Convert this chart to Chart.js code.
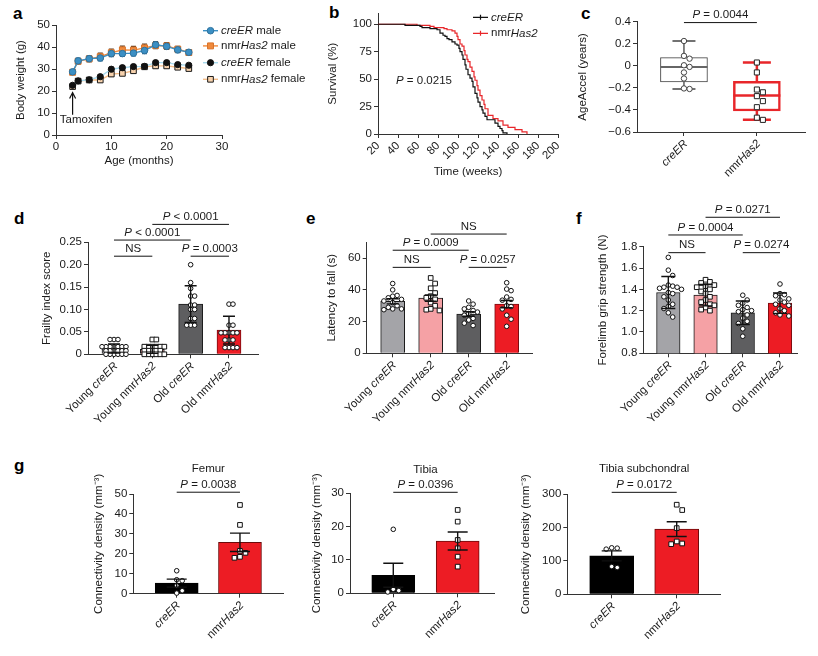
<!DOCTYPE html>
<html><head><meta charset="utf-8">
<script src="https://cdn.jsdelivr.net/npm/chart.js@4.4.1/dist/chart.umd.min.js"></script>
<style>
html,body{margin:0;padding:0;background:#fff;}
#fig{position:relative;width:818px;height:656px;overflow:hidden;background:#fff;}
.pl{position:absolute;font:bold 17px/17px 'Liberation Sans',Arial,sans-serif;color:#000;}
</style></head><body><div id="fig">
<div class="pl" style="left:13px;top:5px">a</div>
<div class="pl" style="left:329px;top:4px">b</div>
<div class="pl" style="left:581px;top:5px">c</div>
<div class="pl" style="left:14px;top:210px">d</div>
<div class="pl" style="left:306px;top:210px">e</div>
<div class="pl" style="left:576px;top:210px">f</div>
<div class="pl" style="left:14px;top:457px">g</div>
</div>
<script>
// ---------------- DATA ----------------
// a: body weight
const ageMonths = [3,4,6,8,10,12,14,16,18,20,22,24];
const creMaleBW = [28.7,33.7,34.7,35.0,37.0,37.0,37.2,38.4,41.0,40.3,38.7,37.6];
const creMaleSEM = [1.0,1.2,1.4,1.3,1.4,1.3,1.3,1.4,1.5,1.4,1.3,1.2];
const nmrMaleBW = [28.5,33.5,34.6,35.6,37.4,38.7,38.6,39.6,40.7,40.5,39.0,37.5];
const nmrMaleSEM = [1.0,1.2,1.3,1.6,1.6,1.7,1.7,1.7,1.5,1.5,1.3,1.2];
const creFemBW = [22.6,24.6,25.1,26.5,29.9,30.6,31.1,31.2,32.9,32.9,32.0,31.7];
const creFemSEM = [0.8,0.8,0.8,0.8,0.9,0.9,0.9,0.8,0.8,0.8,0.8,0.8];
const nmrFemBW = [22.0,24.5,25.0,25.0,27.7,28.0,29.2,31.0,31.4,31.4,30.8,30.2];
const nmrFemSEM = [0.8,0.8,0.8,0.8,0.9,0.9,0.9,0.8,0.8,0.8,0.8,0.8];
const ageTicks = [0,10,20,30];
const bwTicks = [0,10,20,30,40,50];

// b: survival
const creERWeeks = [20,47,62,64,72,79,82,85,87,89,91,94,97,99,101,102,104,105,107,108,110,112,114,115,117,119,120,122,124,125,127,129,135,137,140,142,144,145,149];
const creERSurv  = [100,99,98,97,96,95,92,90,89,87,86,84,82,81,78,75,72,68,63,59,54,51,48,43,37,33,29,25,22,19,16,13,13,10,7,5,3,1,0];
const nmrWeeks = [20,59,72,76,86,89,94,97,99,100,102,104,106,107,109,110,112,114,116,117,119,120,122,124,126,127,130,135,140,145,150,157,164,169];
const nmrSurv  = [100,99,98,97,96,95,94,92,89,86,82,80,76,72,68,66,61,57,52,49,44,40,35,31,27,23,17,14,12,8,6,4,2,0];
const weekTicks = [20,40,60,80,100,120,140,160,180,200];
const survTicks = [0,25,50,75,100];

// c: AgeAccel box plot
const boxGroups = ['<i>creER</i>','nmr<i>Has2</i>'];
const ageAccelCre = [0.225,0.09,0.065,0.005,-0.01,-0.06,-0.115,-0.205,-0.21];
const ageAccelNmr = [0.03,-0.06,-0.215,-0.24,-0.275,-0.32,-0.375,-0.47,-0.49];
const boxMin = [-0.21,-0.49];
const boxQ1 = [-0.145,-0.41];
const boxMedian = [-0.01,-0.27];
const boxQ3 = [0.075,-0.14];
const boxMax = [0.225,0.03];
const ageAccelTicks = [0.4,0.2,0,-0.2,-0.4,-0.6];
const ageAccelLabels = ['0.4','0.2','0','\u22120.2','\u22120.4','\u22120.6'];

// d, e, f
const groups4 = ['Young <i>creER</i>','Young nmr<i>Has2</i>','Old <i>creER</i>','Old nmr<i>Has2</i>'];
const frailtyMean = [0.013,0.011,0.112,0.054];
const frailtySD = [0.010,0.009,0.041,0.031];
const frailtyYoungCre = [0.033,0.033,0.033,0.017,0.017,0.017,0.017,0.017,0.017,0.017,0.008,0.008,0.008,0.008,0.008,0.008,0,0,0,0,0,0];
const frailtyYoungNmr = [0.033,0.033,0.017,0.017,0.017,0.017,0.017,0.017,0.008,0.008,0.008,0.008,0.008,0,0,0,0,0,0];
const frailtyOldCre = [0.20,0.16,0.147,0.13,0.13,0.11,0.11,0.10,0.10,0.08,0.08,0.065,0.065,0.065];
const frailtyOldNmr = [0.112,0.112,0.065,0.065,0.048,0.048,0.048,0.048,0.048,0.032,0.032,0.032,0.015,0.015,0.015,0.015];
const frailtyTicks = [0,0.05,0.10,0.15,0.20,0.25];
const frailtyLabels = ['0','0.05','0.10','0.15','0.20','0.25'];

const latencyMean = [32.8,34.8,24.8,31.0];
const latencySEM = [1.6,2.0,1.4,2.3];
const latencyYoungCre = [44,40,36.5,36,35,34,33,32,30,29,28,28,27.5];
const latencyYoungNmr = [47.5,44,41,38,36,35,34,32,30,28,27.5,27];
const latencyOldCre = [33,31,29,28,27,26,25,24,22,21,19,17.5];
const latencyOldNmr = [44.5,40.5,39.5,35.5,34,33.5,30,29.5,28,24,21.5,17];
const latencyTicks = [0,20,40,60];

const gripMean = [1.37,1.345,1.18,1.27];
const gripSD = [0.15,0.10,0.11,0.095];
const gripYoungCre = [1.70,1.58,1.53,1.44,1.43,1.42,1.42,1.41,1.40,1.37,1.36,1.33,1.30,1.26,1.24,1.22,1.18,1.14];
const gripYoungNmr = [1.49,1.47,1.46,1.44,1.43,1.42,1.40,1.38,1.36,1.33,1.30,1.28,1.26,1.25,1.23,1.21,1.20];
const gripOldCre = [1.345,1.30,1.27,1.25,1.23,1.21,1.20,1.19,1.16,1.13,1.10,1.08,1.03,0.96];
const gripOldNmr = [1.45,1.36,1.35,1.34,1.31,1.30,1.28,1.26,1.25,1.22,1.20,1.18,1.16,1.15];
const gripTicks = [0.8,1.0,1.2,1.4,1.6,1.8];
const gripLabels = ['0.8','1.0','1.2','1.4','1.6','1.8'];

// g
const groups2 = ['<i>creER</i>','nmr<i>Has2</i>'];
const femurMean = [5.3,25.8];
const femurSEM = [2.0,4.6];
const femurCre = [11.5,7.0,6.5,4.0,1.5,0.3];
const femurNmr = [44.5,34.5,21.5,20.5,18.5,18];
const femurTicks = [0,10,20,30,40,50];
const tibiaMean = [5.4,15.7];
const tibiaSEM = [3.6,2.7];
const tibiaCre = [19.2,1.2,0.8,0.4];
const tibiaNmr = [25,21.5,16,13.5,11,8];
const tibiaTicks = [0,10,20,30];
const subMean = [115,195];
const subSEM = [15,22];
const subCre = [139,135,138,80,83];
const subNmr = [268,252,198,158,152,150];
const subTicks = [0,100,200,300];

// significance annotations: [groupA, groupB, yValue, label]
const sigC = [[0,1,0.392,'<i>P</i> = 0.0044']];
const sigD = [[0,1,0.219,'NS'],[0,2,0.255,'<i>P</i> < 0.0001'],[1,3,0.290,'<i>P</i> < 0.0001'],[2,3,0.219,'<i>P</i> = 0.0003']];
const sigE = [[0,1,54.2,'NS'],[0,2,65,'<i>P</i> = 0.0009'],[1,3,75.2,'NS'],[2,3,54.2,'<i>P</i> = 0.0257']];
const sigF = [[0,1,1.744,'NS'],[0,2,1.910,'<i>P</i> = 0.0004'],[1,3,2.076,'<i>P</i> = 0.0271'],[2,3,1.744,'<i>P</i> = 0.0274']];
const sigG1 = [[0,1,50.9,'<i>P</i> = 0.0038']];
const sigG2 = [[0,1,30.3,'<i>P</i> = 0.0396']];
const sigG3 = [[0,1,305,'<i>P</i> = 0.0172']];

// ---------------- SETUP ----------------
const FONT = "'Liberation Sans', Arial, Helvetica, sans-serif";
const FS = 11.5;
const TXT = '#1a1a1a';
const AX = '#333';
Chart.defaults.font.family = FONT;
Chart.defaults.font.size = FS;
Chart.defaults.color = TXT;
Chart.defaults.animation = false;
Chart.defaults.responsive = false;
Chart.defaults.events = [];
Chart.defaults.plugins.legend.display = false;
Chart.defaults.plugins.tooltip.enabled = false;

function mkCanvas(box) {
  const c = document.createElement('canvas');
  c.width = box.w; c.height = box.h;
  c.style.cssText = `position:absolute;left:${box.l}px;top:${box.t}px;width:${box.w}px;height:${box.h}px`;
  document.getElementById('fig').appendChild(c);
  return c;
}
function layoutFor(box, area) {
  return { padding: { top: area.t - box.t, right: box.l + box.w - area.r, left: 0, bottom: 0 } };
}
function richParts(s) {
  const out = [];
  s.split(/(<i>.*?<\/i>)/).forEach(p => { if (!p) return; if (p.startsWith('<i>')) out.push([p.slice(3, -4), true]); else out.push([p, false]); });
  return out;
}
function drawRich(ctx, s, x, y, o = {}) {
  const size = o.size || FS, align = o.align || 'center';
  const ps = richParts(s);
  ctx.save();
  ctx.translate(x, y);
  if (o.rot) ctx.rotate(o.rot);
  ctx.textBaseline = 'middle'; ctx.textAlign = 'left'; ctx.fillStyle = o.color || TXT;
  let w = 0;
  ps.forEach(([t, it]) => { ctx.font = (it ? 'italic ' : '') + size + 'px ' + FONT; w += ctx.measureText(t).width; });
  let cx = align === 'center' ? -w / 2 : align === 'right' ? -w : 0;
  ps.forEach(([t, it]) => { ctx.font = (it ? 'italic ' : '') + size + 'px ' + FONT; ctx.fillText(t, cx, 0); cx += ctx.measureText(t).width; });
  ctx.restore();
}
function yAxis(p) {
  return {
    type: 'linear', position: 'left', min: p.min, max: p.max,
    afterFit: s => { s.width = p.width; },
    afterBuildTicks: s => { s.ticks = p.ticks.map(v => ({ value: v })); },
    ticks: { callback: (v, i) => p.labels[i], padding: 2, color: TXT, font: { size: FS } },
    grid: { drawOnChartArea: false, drawTicks: true, tickLength: 4, color: AX, lineWidth: 1 },
    border: { display: true, color: AX, width: 1 },
    title: { display: true, text: p.title, color: TXT, font: { size: FS }, padding: { top: p.titlePad, bottom: 0 } }
  };
}
function xCatAxis(n, min, max, height) {
  return {
    type: 'linear', position: 'bottom', min, max, offset: false,
    afterFit: s => { s.height = height; },
    afterBuildTicks: s => { s.ticks = Array.from({ length: n }, (_, i) => ({ value: i })); },
    ticks: { display: false },
    grid: { drawOnChartArea: false, drawTicks: true, tickLength: 4, color: AX, lineWidth: 1, offset: false },
    border: { display: true, color: AX, width: 1 }
  };
}
// deterministic beeswarm layout: x offsets (data units) so close values sit side by side
function swarm(vals, pxY, pxX, d, k) {
  k = k || 1;
  const placed = [], offs = new Array(vals.length);
  const order = vals.map((v, i) => i).sort((a, b) => vals[b] - vals[a]);
  for (const i of order) {
    const y = vals[i] * pxY;
    for (let n = 0; n < 80; n++) {
      const s = n === 0 ? 0 : (n % 2 ? 1 : -1) * Math.ceil(n / 2);
      const x = s * d;
      if (placed.every(p => Math.hypot(p.x - x, (p.y - y) * k) >= d - 0.01)) { placed.push({ x, y }); offs[i] = x / pxX; break; }
    }
  }
  return offs;
}
function errBars(chart, means, errs, cap, color, lw, xs) {
  const { ctx, scales: { x, y } } = chart;
  ctx.save(); ctx.strokeStyle = color; ctx.lineWidth = lw;
  means.forEach((m, i) => {
    const px = x.getPixelForValue(xs ? xs[i] : i);
    const y1 = y.getPixelForValue(m - errs[i]), y2 = y.getPixelForValue(m + errs[i]);
    ctx.beginPath();
    ctx.moveTo(px, y1); ctx.lineTo(px, y2);
    ctx.moveTo(px - cap / 2, y1); ctx.lineTo(px + cap / 2, y1);
    ctx.moveTo(px - cap / 2, y2); ctx.lineTo(px + cap / 2, y2);
    ctx.stroke();
  });
  ctx.restore();
}
function brackets(chart, list) {
  const { ctx, scales: { x, y } } = chart;
  list.forEach(([a, b, yv, lab]) => {
    const x1 = x.getPixelForValue(a), x2 = x.getPixelForValue(b), py = y.getPixelForValue(yv);
    ctx.save(); ctx.strokeStyle = '#111'; ctx.lineWidth = 1;
    ctx.beginPath(); ctx.moveTo(x1, py); ctx.lineTo(x2, py); ctx.stroke(); ctx.restore();
    drawRich(ctx, lab, (x1 + x2) / 2, py - 7.5);
  });
}
function catLabels(chart, labels) {
  const { ctx, scales: { x }, chartArea } = chart;
  labels.forEach((lab, i) => drawRich(ctx, lab, x.getPixelForValue(i) + 2, chartArea.bottom + 10, { align: 'right', rot: -Math.PI / 4 }));
}

// ---------------- BAR PANELS ----------------
function barPanel(p) {
  const cv = mkCanvas(p.box);
  const pxY = (p.area.b - p.area.t) / (p.yMax - p.yMin);
  const pxX = (p.area.r - p.area.l) / (p.xMax - p.xMin);
  const datasets = [];
  p.dots.forEach((vals, i) => {
    const offs = swarm(vals.map(v => v - p.yMin), pxY, pxX, p.dotD || 5, p.dotK);
    const sq = p.shapes[i] === 'rect';
    datasets.push({ type: 'scatter', order: 1, clip: false, data: vals.map((v, k) => ({ x: i + offs[k], y: v })),
      pointStyle: p.shapes[i], pointRadius: sq ? 3.3 : 2.3, pointBorderWidth: 1,
      pointBorderColor: '#111', pointBackgroundColor: '#fff' });
  });
  datasets.push({ type: 'bar', order: 2, data: p.means.map((m, i) => ({ x: i, y: m })),
    backgroundColor: p.colors, borderColor: p.borders, borderWidth: 1, barThickness: p.barPx });
  new Chart(cv, {
    type: 'scatter', data: { datasets },
    options: {
      layout: layoutFor(p.box, p.area),
      scales: {
        x: xCatAxis(p.labels.length, p.xMin, p.xMax, p.box.t + p.box.h - p.area.b),
        y: yAxis({ min: p.yMin, max: p.yMax, ticks: p.ticks, labels: p.tickLabels || p.ticks.map(String),
          width: p.area.l - p.box.l, title: p.yTitle, titlePad: p.titlePad })
      }
    },
    plugins: [{
      id: 'deco',
      afterDatasetsDraw(chart) { errBars(chart, p.means, p.errs, p.cap, '#111', 1.4); },
      afterDraw(chart) {
        catLabels(chart, p.labels);
        brackets(chart, p.sig);
        if (p.title) {
          const { x, y } = chart.scales;
          drawRich(chart.ctx, p.title, (x.getPixelForValue(0) + x.getPixelForValue(1)) / 2, y.getPixelForValue(p.titleY));
        }
      }
    }]
  });
}

const C4 = ['#a4a4a8', '#f5a1a5', '#5e5e60', '#ed1c24'];
const B4 = ['#1a1a1a', '#1a1a1a', '#1a1a1a', '#7a0c10'];
const SH4 = ['circle', 'rect', 'circle', 'circle'];

barPanel({ box: { l: 0, t: 190, w: 290, h: 250 }, area: { l: 88, t: 242.3, r: 258, b: 354.3 },
  xMin: -0.678, xMax: 3.757, yMin: 0, yMax: 0.25, ticks: frailtyTicks, tickLabels: frailtyLabels,
  yTitle: 'Frailty index score', titlePad: 39.8, labels: groups4, means: frailtyMean, errs: frailtySD,
  dots: [frailtyYoungCre, frailtyYoungNmr, frailtyOldCre, frailtyOldNmr], shapes: SH4,
  colors: C4, borders: B4, barPx: 24, cap: 12, sig: sigD, dotD: 4.0, dotK: 2.5 });

barPanel({ box: { l: 290, t: 190, w: 270, h: 250 }, area: { l: 366.7, t: 242.3, r: 532, b: 353.3 },
  xMin: -0.684, xMax: 3.666, yMin: 0, yMax: 70, ticks: latencyTicks,
  yTitle: 'Latency to fall (s)', titlePad: 34.8, labels: groups4, means: latencyMean, errs: latencySEM,
  dots: [latencyYoungCre, latencyYoungNmr, latencyOldCre, latencyOldNmr], shapes: SH4,
  colors: C4, borders: B4, barPx: 24, cap: 12, sig: sigE, dotD: 4.4, dotK: 0.7 });

barPanel({ box: { l: 560, t: 190, w: 258, h: 250 }, area: { l: 643.3, t: 246.7, r: 797, b: 353.3 },
  xMin: -0.672, xMax: 3.457, yMin: 0.8, yMax: 1.8, ticks: gripTicks, tickLabels: gripLabels,
  yTitle: 'Forelimb grip strength (N)', titlePad: 36.1, labels: groups4, means: gripMean, errs: gripSD,
  dots: [gripYoungCre, gripYoungNmr, gripOldCre, gripOldNmr], shapes: SH4,
  colors: C4, borders: B4, barPx: 23.5, cap: 14, sig: sigF, dotD: 4.4, dotK: 0.8 });

const C2 = ['#000000', '#ed1c24'];
const B2 = ['#000000', '#6b0a0a'];
const SH2 = ['circle', 'rect'];
const CD = 'Connectivity density (mm\u207B\u00B3)';

barPanel({ box: { l: 40, t: 450, w: 255, h: 206 }, area: { l: 133.3, t: 494, r: 283, b: 593.7 },
  xMin: -0.686, xMax: 1.68, yMin: 0, yMax: 50, ticks: femurTicks,
  yTitle: CD, titlePad: 52.4, labels: groups2, means: femurMean, errs: femurSEM,
  dots: [femurCre, femurNmr], shapes: SH2, colors: C2, borders: B2, barPx: 43, cap: 20,
  sig: sigG1, title: 'Femur', titleY: 62.5, dotD: 5.5 });

barPanel({ box: { l: 300, t: 450, w: 205, h: 206 }, area: { l: 350, t: 493.3, r: 494, b: 593.3 },
  xMin: -0.672, xMax: 1.564, yMin: 0, yMax: 30, ticks: tibiaTicks,
  yTitle: CD, titlePad: 9.8, labels: groups2, means: tibiaMean, errs: tibiaSEM,
  dots: [tibiaCre, tibiaNmr], shapes: SH2, colors: C2, borders: B2, barPx: 43, cap: 20,
  sig: sigG2, title: 'Tibia', titleY: 37, dotD: 5.5 });

barPanel({ box: { l: 515, t: 450, w: 215, h: 206 }, area: { l: 567.3, t: 494, r: 720, b: 594.3 },
  xMin: -0.683, xMax: 1.666, yMin: 0, yMax: 300, ticks: subTicks,
  yTitle: CD, titlePad: 4.1, labels: groups2, means: subMean, errs: subSEM,
  dots: [subCre, subNmr], shapes: SH2, colors: C2, borders: B2, barPx: 44, cap: 20,
  sig: sigG3, title: 'Tibia subchondral', titleY: 375, dotD: 5.5 });

// ---------------- PANEL A ----------------
(function () {
  const box = { l: 0, t: 0, w: 312, h: 170 }, area = { l: 56, t: 25, r: 222, b: 135 };
  const cv = mkCanvas(box);
  const zip = ys => ageMonths.map((m, i) => ({ x: m, y: ys[i] }));
  const series = [
    { ys: creMaleBW, err: creMaleSEM, line: '#3b8fc4', style: 'circle', r: 3.3, fill: '#3b8fc4', bd: '#2f739e', ec: '#2a628a' },
    { ys: nmrMaleBW, err: nmrMaleSEM, line: '#f08a3c', style: 'rect', r: 4.2, fill: '#f08a3c', bd: '#d9732a', ec: '#5e3a1c' },
    { ys: creFemBW, err: creFemSEM, line: '#a6d8ec', style: 'circle', r: 3.1, fill: '#111', bd: '#111', ec: '#111' },
    { ys: nmrFemBW, err: nmrFemSEM, line: '#f5bd88', style: 'rect', r: 4.0, fill: '#f7d2ad', bd: '#1a1a1a', ec: '#111' }
  ];
  const datasets = series.map((s, k) => ({ type: 'scatter', showLine: true, data: zip(s.ys), borderColor: s.line, borderWidth: 1.4,
    pointStyle: s.style, pointRadius: s.r, pointBackgroundColor: s.fill, pointBorderColor: s.bd, pointBorderWidth: 1, order: k, clip: false }));
  new Chart(cv, {
    type: 'scatter', data: { datasets },
    options: {
      layout: layoutFor(box, area),
      scales: {
        x: { type: 'linear', min: 0, max: 30, afterFit: s => { s.height = box.h - area.b; },
          afterBuildTicks: s => { s.ticks = ageTicks.map(v => ({ value: v })); },
          ticks: { padding: 1, color: TXT }, grid: { drawOnChartArea: false, tickLength: 4, color: AX },
          border: { color: AX }, title: { display: true, text: 'Age (months)', color: TXT, padding: { top: 0, bottom: 2.1 } } },
        y: yAxis({ min: 0, max: 50, ticks: bwTicks, labels: bwTicks.map(String), width: area.l - box.l, title: 'Body weight (g)', titlePad: 14.1 })
      }
    },
    plugins: [{
      id: 'decoA',
      beforeDatasetsDraw(chart) { series.forEach(s => errBars(chart, s.ys, s.err, 5, s.ec, 1.2, ageMonths)); },
      afterDraw(chart) {
        const { ctx, scales: { x, y } } = chart;
        const ax = x.getPixelForValue(3), yb = y.getPixelForValue(9.2), yt = y.getPixelForValue(19.3);
        ctx.save(); ctx.strokeStyle = '#111'; ctx.lineWidth = 1.2;
        ctx.beginPath(); ctx.moveTo(ax, yb); ctx.lineTo(ax, yt); ctx.moveTo(ax - 3, yt + 6); ctx.lineTo(ax, yt); ctx.lineTo(ax + 3, yt + 6); ctx.stroke(); ctx.restore();
        drawRich(ctx, 'Tamoxifen', x.getPixelForValue(0.7), y.getPixelForValue(6.8), { align: 'left' });
        const rows = [30.7, 45.9, 62.7, 79.3];
        const names = ['<i>creER</i> male', 'nmr<i>Has2</i> male', '<i>creER</i> female', 'nmr<i>Has2</i> female'];
        series.forEach((s, k) => {
          const ry = rows[k];
          ctx.save(); ctx.strokeStyle = s.line; ctx.lineWidth = 1.4;
          ctx.beginPath(); ctx.moveTo(203, ry); ctx.lineTo(218, ry); ctx.stroke();
          ctx.fillStyle = s.fill; ctx.strokeStyle = s.bd; ctx.lineWidth = 1;
          ctx.beginPath();
          if (s.style === 'circle') ctx.arc(210.5, ry, s.r, 0, Math.PI * 2);
          else { const h = s.r * Math.SQRT1_2; ctx.rect(210.5 - h, ry - h, 2 * h, 2 * h); }
          ctx.fill(); ctx.stroke(); ctx.restore();
          drawRich(ctx, names[k], 221, ry, { align: 'left' });
        });
      }
    }]
  });
})();

// ---------------- PANEL B ----------------
(function () {
  const box = { l: 300, t: 0, w: 270, h: 185 }, area = { l: 378, t: 13.3, r: 558, b: 134 };
  const cv = mkCanvas(box);
  const zip = (xs, ys) => xs.map((v, i) => ({ x: v, y: ys[i] }));
  new Chart(cv, {
    type: 'scatter',
    data: { datasets: [
      { data: zip(creERWeeks, creERSurv), showLine: true, stepped: 'before', borderColor: '#111', borderWidth: 1.2, pointRadius: 0, clip: false, order: 0 },
      { data: zip(nmrWeeks, nmrSurv), showLine: true, stepped: 'before', borderColor: '#e8262a', borderWidth: 1.2, pointRadius: 0, clip: false, order: 1 }
    ] },
    options: {
      layout: layoutFor(box, area),
      scales: {
        x: { type: 'linear', min: 20, max: 200, afterFit: s => { s.height = box.h - area.b; },
          afterBuildTicks: s => { s.ticks = weekTicks.map(v => ({ value: v })); },
          ticks: { minRotation: 45, maxRotation: 45, autoSkip: false, padding: 1, color: TXT },
          grid: { drawOnChartArea: false, tickLength: 4, color: AX }, border: { color: AX },
          title: { display: true, text: 'Time (weeks)', color: TXT, padding: { top: 0, bottom: 6.4 } } },
        y: yAxis({ min: 0, max: 110, ticks: survTicks, labels: survTicks.map(String), width: area.l - box.l, title: 'Survival (%)', titlePad: 26.4 })
      }
    },
    plugins: [{
      id: 'decoB',
      afterDraw(chart) {
        const ctx = chart.ctx;
        const leg = [[17.3, '#111', '<i>creER</i>'], [33.3, '#e8262a', 'nmr<i>Has2</i>']];
        leg.forEach(([ry, col, txt]) => {
          ctx.save(); ctx.strokeStyle = col; ctx.lineWidth = 1.2;
          ctx.beginPath(); ctx.moveTo(173, ry); ctx.lineTo(188, ry); ctx.moveTo(180.5, ry - 2.5); ctx.lineTo(180.5, ry + 2.5); ctx.stroke(); ctx.restore();
          drawRich(ctx, txt, 191, ry, { align: 'left' });
        });
        drawRich(ctx, '<i>P</i> = 0.0215', 96, 81, { align: 'left' });
      }
    }]
  });
})();

// ---------------- PANEL C ----------------
(function () {
  const box = { l: 570, t: 0, w: 248, h: 185 }, area = { l: 637, t: 21.7, r: 805, b: 132 };
  const cv = mkCanvas(box);
  const xMin = -0.644, xMax = 1.66, yMin = -0.6, yMax = 0.4;
  const pxY = (area.b - area.t) / (yMax - yMin), pxX = (area.r - area.l) / (xMax - xMin);
  const oc = swarm(ageAccelCre, pxY, pxX, 5.6), on = swarm(ageAccelNmr, pxY, pxX, 6);
  const boxColors = ['#444', '#e8262a'];
  new Chart(cv, {
    type: 'scatter',
    data: { datasets: [
      { type: 'scatter', order: 1, clip: false, data: ageAccelCre.map((v, k) => ({ x: 0 + oc[k], y: v })), pointStyle: 'circle', pointRadius: 2.7,
        pointBorderWidth: 1, pointBorderColor: '#444', pointBackgroundColor: '#fff' },
      { type: 'scatter', order: 1, clip: false, data: ageAccelNmr.map((v, k) => ({ x: 1 + on[k], y: v })), pointStyle: 'rect', pointRadius: 3.6,
        pointBorderWidth: 1, pointBorderColor: '#222', pointBackgroundColor: '#fff' },
      { type: 'bar', order: 3, data: boxQ1.map((q, i) => ({ x: i, y: [q, boxQ3[i]] })), backgroundColor: '#fff',
        borderColor: boxColors, borderWidth: [1, 2.5], borderSkipped: false, barThickness: 47 }
    ] },
    options: {
      layout: layoutFor(box, area),
      scales: {
        x: xCatAxis(2, xMin, xMax, box.h - area.b),
        y: yAxis({ min: yMin, max: yMax, ticks: ageAccelTicks, labels: ageAccelLabels, width: area.l - box.l, title: 'AgeAccel (years)', titlePad: 6.1 })
      }
    },
    plugins: [{
      id: 'decoC',
      afterDatasetDraw(chart, args) {
        if (args.meta.type !== 'bar') return;
        const { ctx, scales: { x, y } } = chart;
        [0, 1].forEach(i => {
          const px = x.getPixelForValue(i), lw = i ? 2.5 : 1.3, cap = i ? 28 : 23, half = 23.5;
          ctx.save(); ctx.strokeStyle = boxColors[i]; ctx.lineWidth = lw;
          ctx.beginPath();
          ctx.moveTo(px, y.getPixelForValue(boxQ3[i])); ctx.lineTo(px, y.getPixelForValue(boxMax[i]));
          ctx.moveTo(px, y.getPixelForValue(boxQ1[i])); ctx.lineTo(px, y.getPixelForValue(boxMin[i]));
          ctx.moveTo(px - cap / 2, y.getPixelForValue(boxMax[i])); ctx.lineTo(px + cap / 2, y.getPixelForValue(boxMax[i]));
          ctx.moveTo(px - cap / 2, y.getPixelForValue(boxMin[i])); ctx.lineTo(px + cap / 2, y.getPixelForValue(boxMin[i]));
          ctx.stroke();
          ctx.strokeStyle = i ? '#e8262a' : '#666'; ctx.lineWidth = i ? 2.5 : 2;
          ctx.beginPath(); ctx.moveTo(px - half, y.getPixelForValue(boxMedian[i])); ctx.lineTo(px + half, y.getPixelForValue(boxMedian[i])); ctx.stroke();
          ctx.restore();
        });
      },
      afterDraw(chart) { catLabels(chart, boxGroups); brackets(chart, sigC); }
    }]
  });
})();
</script></body></html>
